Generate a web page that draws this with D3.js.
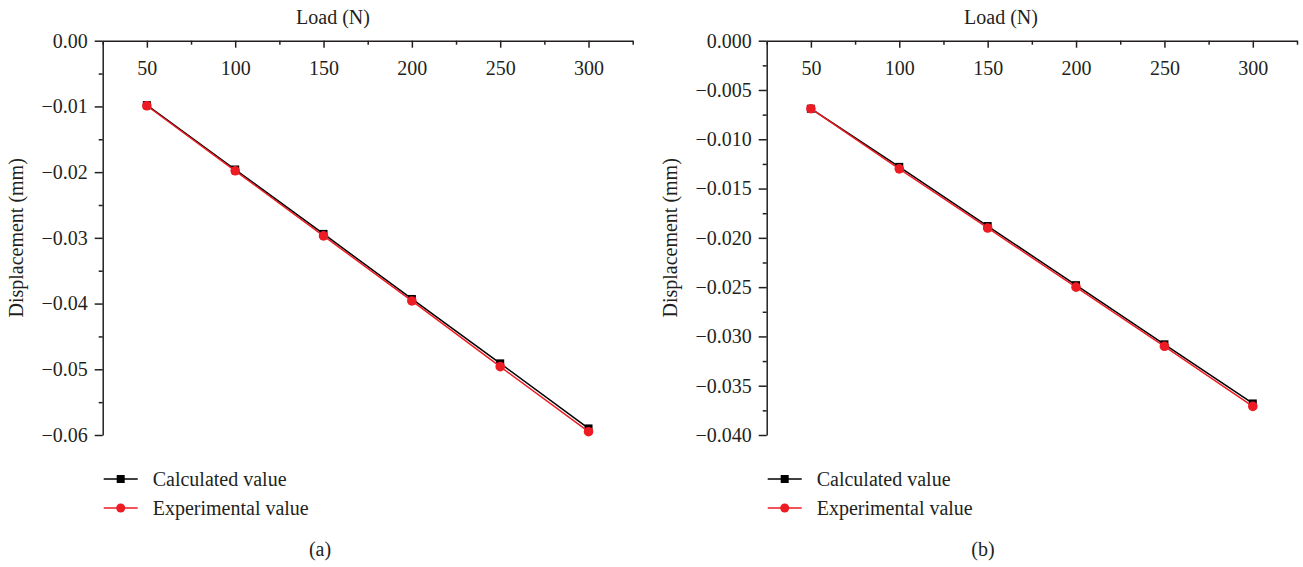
<!DOCTYPE html>
<html lang="en">
<head>
<meta charset="UTF-8">
<title>Displacement vs load</title>
<style>
  body { margin: 0; background: #fff; }
  text { font-family: "Liberation Serif", "DejaVu Serif", serif; fill: #231f20; }
</style>
</head>
<body>
<svg id="chart" width="1303" height="567"></svg>
<script src="https://d3js.org/d3.v7.min.js"></script>
<script>
// data
var loads = [50, 100, 150, 200, 250, 300];
var calcA = [-0.0098, -0.0196, -0.0294, -0.0393, -0.0491, -0.0590];
var expA  = [-0.0099, -0.0198, -0.0297, -0.0396, -0.0496, -0.0595];
var calcB = [-0.0069, -0.0128, -0.0188, -0.0248, -0.0308, -0.0368];
var expB  = [-0.0069, -0.0130, -0.0190, -0.0250, -0.0310, -0.0371];
var xTicks = [50, 100, 150, 200, 250, 300];
var yTicksA = [0, -0.01, -0.02, -0.03, -0.04, -0.05, -0.06];
var yTicksB = [0, -0.005, -0.01, -0.015, -0.02, -0.025, -0.03, -0.035, -0.04];
var seriesNames = ["Calculated value", "Experimental value"];

var BLACK = "#000", RED = "#ed1c24";
var FS = 20;
var svg = d3.select("#chart");

function panel(opt) {
  var x = d3.scaleLinear().domain([25, 325]).range([opt.left, opt.right]);
  var y = d3.scaleLinear().domain([opt.yMin, 0]).range([435, 40.7]);
  var g = svg.append("g");

  // minor ticks
  g.append("g").attr("transform", "translate(0,40.7)")
    .call(d3.axisBottom(x).tickValues(d3.range(25, 326, 50)).tickSize(4).tickFormat(""))
    .call(s => s.select(".domain").remove());
  g.append("g").attr("transform", "translate(" + opt.left + ",0)")
    .call(d3.axisLeft(y).tickValues(opt.yMinor).tickSize(4).tickFormat(""))
    .call(s => s.select(".domain").remove());

  // x axis on top, ticks pointing into the plot
  g.append("g").attr("transform", "translate(0,40.7)")
    .call(d3.axisBottom(x).tickValues(xTicks).tickSize(7).tickSizeOuter(0).tickPadding(13));
  g.append("g").attr("transform", "translate(" + opt.left + ",0)")
    .call(d3.axisLeft(y).tickValues(opt.yTicks).tickSize(8).tickSizeOuter(0).tickPadding(7)
      .tickFormat(d3.format(opt.fmt)));
  g.selectAll(".tick line, .domain").attr("stroke", "#231f20").attr("stroke-width", 1.5);
  g.selectAll(".tick text").attr("font-size", FS).attr("font-family", null).attr("fill", "#231f20");

  g.append("text").attr("x", opt.titleCx).attr("y", 24)
    .attr("text-anchor", "middle").attr("font-size", FS).text("Load (N)");
  g.append("text").attr("transform", "translate(" + opt.titleX + "," + y(opt.yMin / 2) + ") rotate(-90)")
    .attr("text-anchor", "middle").attr("font-size", FS).text("Displacement (mm)");

  var line = d3.line().x((d, i) => x(loads[i])).y(d => y(d));
  g.append("path").datum(opt.calc).attr("d", line).attr("fill", "none")
    .attr("stroke", BLACK).attr("stroke-width", 1.5);
  g.selectAll(".sq").data(opt.calc).enter().append("rect")
    .attr("x", (d, i) => x(loads[i]) - 4).attr("y", d => y(d) - 4)
    .attr("width", 8).attr("height", 8).attr("fill", BLACK);
  g.append("path").datum(opt.exp).attr("d", line).attr("fill", "none")
    .attr("stroke", RED).attr("stroke-width", 1.5);
  g.selectAll(".ci").data(opt.exp).enter().append("circle")
    .attr("cx", (d, i) => x(loads[i])).attr("cy", d => y(d)).attr("r", 4.8).attr("fill", RED);

  // legend
  var lg = g.append("g").attr("transform", "translate(" + (opt.left + 1) + ",479)");
  seriesNames.forEach(function (name, i) {
    var row = lg.append("g").attr("transform", "translate(0," + i * 29 + ")");
    var c = i === 0 ? BLACK : RED;
    row.append("line").attr("x1", 0).attr("x2", 34).attr("stroke", c).attr("stroke-width", 1.5);
    if (i === 0) row.append("rect").attr("x", 13).attr("y", -4).attr("width", 8).attr("height", 8).attr("fill", c);
    else row.append("circle").attr("cx", 17).attr("r", 4.5).attr("fill", c);
    row.append("text").attr("x", 49).attr("y", 7).attr("font-size", FS).text(name);
  });

  g.append("text").attr("x", opt.labelX).attr("y", 556).attr("text-anchor", "middle")
    .attr("font-size", FS).text(opt.label);
}

panel({ left: 102.7, right: 632.7, yMin: -0.06, yTicks: yTicksA,
  yMinor: d3.range(-0.055, 0, 0.01), fmt: ".2f", calc: calcA, exp: expA,
  titleX: 23, titleCx: 333, labelX: 320, label: "(a)" });
panel({ left: 766.7, right: 1297, yMin: -0.04, yTicks: yTicksB,
  yMinor: d3.range(-0.0375, 0, 0.005), fmt: ".3f", calc: calcB, exp: expB,
  titleX: 677, titleCx: 1001, labelX: 983, label: "(b)" });
</script>
</body>
</html>
